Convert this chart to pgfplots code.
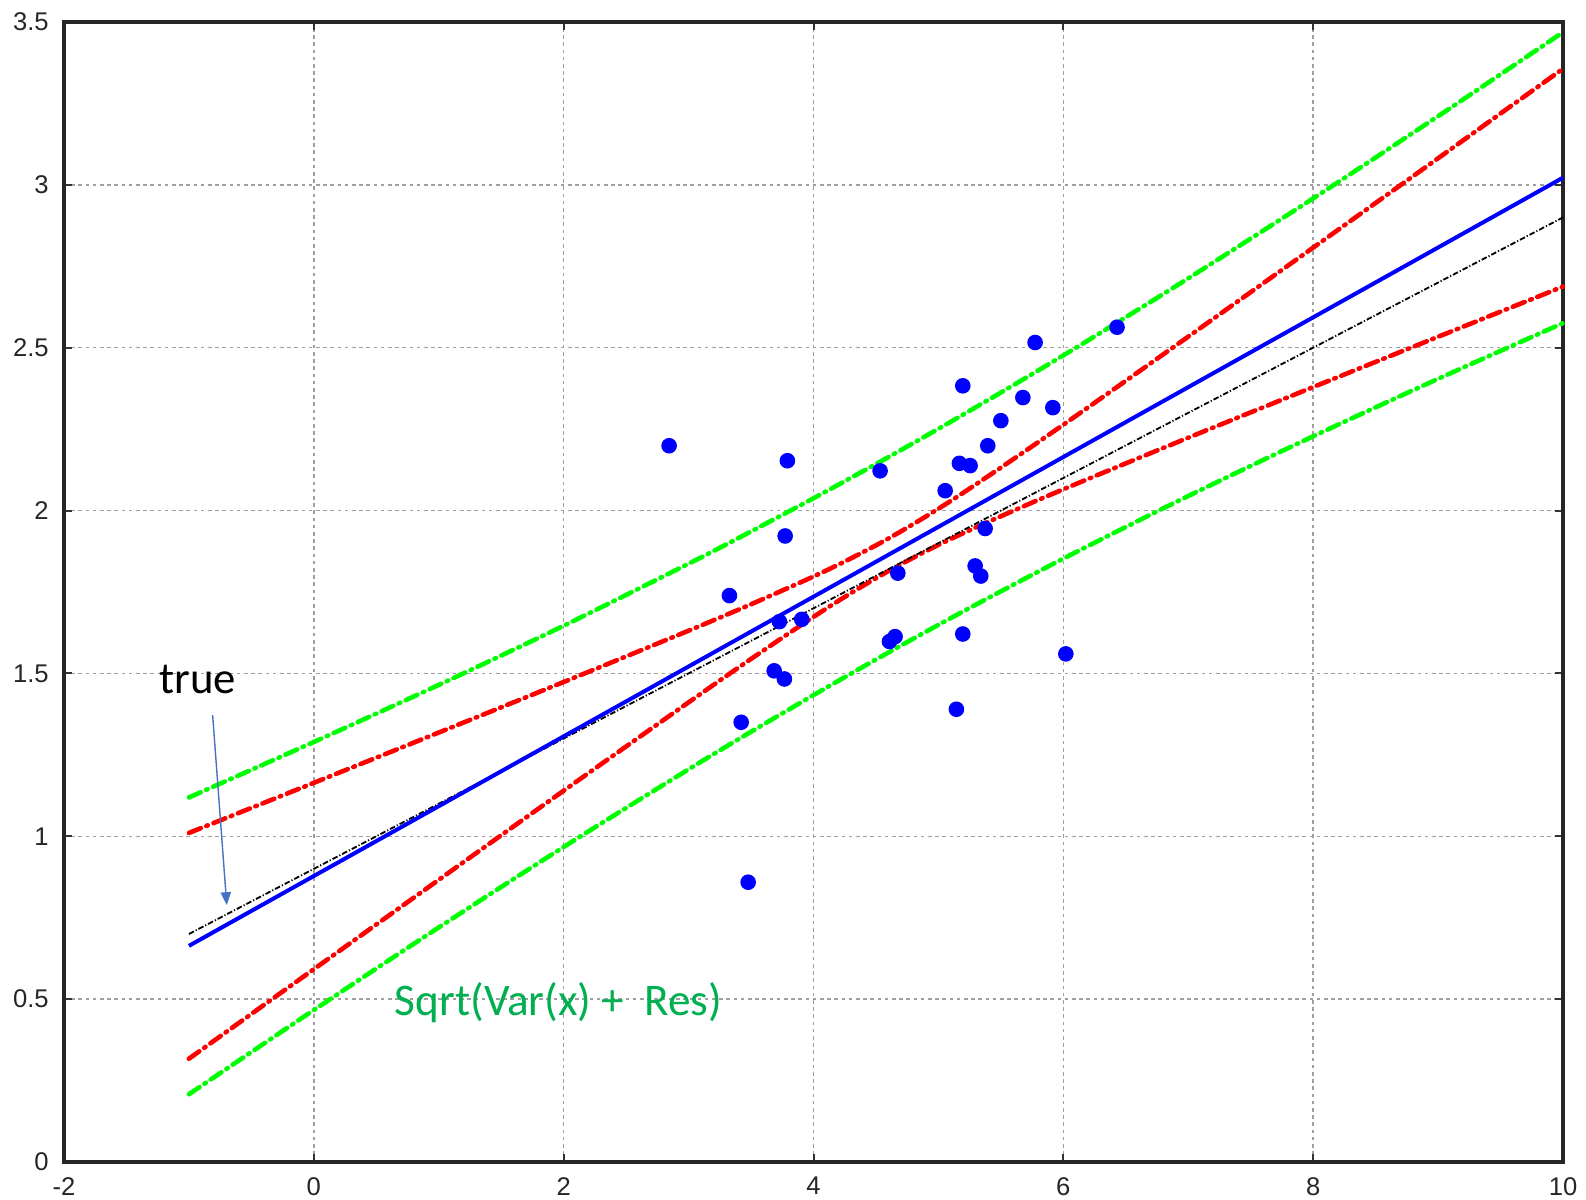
\documentclass[border=0pt]{standalone}
\usepackage{fontspec}
\setmainfont{Liberation Sans}
\newfontfamily\carlito{Carlito}
\usepackage{pgfplots}
\pgfplotsset{compat=1.18}
\usetikzlibrary{arrows.meta}
\definecolor{annogreen}{RGB}{0,176,80}
\definecolor{arrowblue}{RGB}{68,114,196}
\begin{document}
\begin{tikzpicture}
\useasboundingbox (-16pt,-9.5pt) rectangle (380.5pt,290.5pt);
\begin{axis}[
  at={(0,0)}, anchor=south west,
  scale only axis,
  width=374.75pt, height=285pt,
  xmin=-2, xmax=10, ymin=0, ymax=3.5,
  xtick={-2,0,2,4,6,8,10},
  ytick={0,0.5,1,1.5,2,2.5,3,3.5},
  yticklabels={0,0.5,1,1.5,2,2.5,3,3.5},
  xticklabels={-2,0,2,4,6,8,10},
  tick label style={font=\fontsize{6.4}{7}\selectfont, text=black!85},
  /pgf/number format/assume math mode=true,
  tick align=inside,
  major tick length=2pt,
  tick style={black!80, line width=0.5pt},
  axis line style={black!85, line width=0.8pt},
  grid=major,
  major grid style={gray!75, line width=0.35pt, dash pattern=on 0.9pt off 0.9pt},
  xticklabel style={yshift=-0.3pt},
  yticklabel style={xshift=-0.3pt},
  clip=false,
]
% green prediction band
\addplot[green, line width=1.15pt, line cap=round, dash pattern=on 3.2pt off 1.5pt on 0.4pt off 1.5pt, smooth] coordinates {
(-1,1.1192) (0,1.2895) (1,1.4647) (2,1.6464) (3,1.8368) (3.5,1.9359) (4,2.0378) (4.3,2.1006) (4.6,2.1642) (4.9,2.2292) (5.2,2.2951) (5.7,2.4076) (6.2,2.5229) (7,2.7129) (8,2.9584) (9,3.2108) (10,3.4685)};
\addplot[green, line width=1.15pt, line cap=round, dash pattern=on 3.2pt off 1.5pt on 0.4pt off 1.5pt, smooth] coordinates {
(-1,0.2080) (0,0.4665) (1,0.7201) (2,0.9672) (3,1.2056) (3.5,1.3209) (4,1.4334) (4.3,1.4994) (4.6,1.5642) (4.9,1.6280) (5.2,1.6907) (5.7,1.7926) (6.2,1.8917) (7,2.0447) (8,2.2280) (9,2.4044) (10,2.5755)};
% red confidence band
\addplot[red, line width=1.15pt, line cap=round, dash pattern=on 3.2pt off 1.5pt on 0.4pt off 1.5pt, smooth] coordinates {
(-1,1.0102) (0,1.1641) (1,1.3185) (2,1.4737) (3,1.6312) (3.5,1.7123) (4,1.7976) (4.3,1.8533) (4.6,1.9142) (4.9,1.9819) (5.2,2.0549) (5.7,2.1840) (6.2,2.3173) (7,2.5340) (8,2.8073) (9,3.0816) (10,3.3564)};
\addplot[red, line width=1.15pt, line cap=round, dash pattern=on 3.2pt off 1.5pt on 0.4pt off 1.5pt, smooth] coordinates {
(-1,0.3170) (0,0.5919) (1,0.8663) (2,1.1399) (3,1.4112) (3.5,1.5445) (4,1.6736) (4.3,1.7467) (4.6,1.8142) (4.9,1.8753) (5.2,1.9309) (5.7,2.0162) (6.2,2.0973) (7,2.2236) (8,2.3791) (9,2.5336) (10,2.6876)};
% true line
\addplot[black, line width=0.45pt, dash pattern=on 1.4pt off 0.5pt on 0.3pt off 0.5pt] coordinates {(-1,0.70) (10,2.90)};
% fitted line
\addplot[blue, line width=1pt] coordinates {(-1,0.6636) (10,3.0220)};
% data
\addplot[only marks, mark=*, mark size=1.75pt, blue, mark options={draw=blue, fill=blue}] coordinates {
(2.844,2.199) (3.791,2.153) (3.773,1.922) (3.327,1.739) (3.727,1.659)
(3.906,1.666) (3.685,1.508) (3.767,1.483) (3.421,1.350) (3.477,0.859)
(4.533,2.122) (5.054,2.061) (5.195,2.383) (5.168,2.145) (5.254,2.138)
(5.395,2.199) (5.500,2.276) (5.676,2.347) (5.774,2.516) (5.916,2.316)
(6.430,2.563) (5.374,1.945) (5.294,1.830) (5.339,1.799) (4.675,1.808)
(4.608,1.598) (4.653,1.613) (5.195,1.621) (6.020,1.560) (5.144,1.390)};

\node[font=\carlito\fontsize{11.2}{13}\selectfont, text=black] at (axis cs:-0.93,1.48) {true};
\draw[arrowblue, line width=0.35pt, -{Triangle[length=3.2pt,width=2.6pt]}] (axis cs:-0.81,1.372) -- (axis cs:-0.697,0.789);
\node[font=\carlito\fontsize{11.3}{13}\selectfont, text=annogreen] at (axis cs:1.96,0.49) {Sqrt(Var(x) +\ \ Res)};
\end{axis}
\end{tikzpicture}
\end{document}
